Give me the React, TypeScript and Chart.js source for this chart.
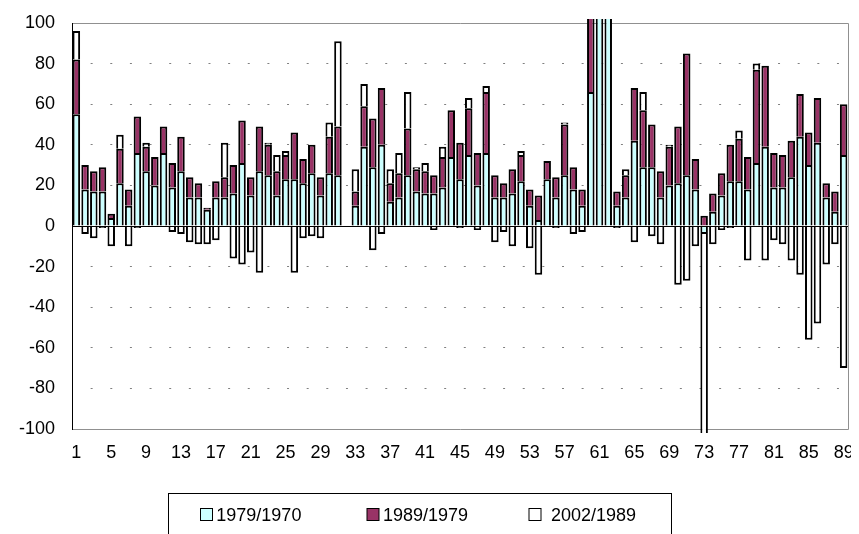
import { useEffect, useRef } from "react";
import { Chart, registerables } from "chart.js";

Chart.register(...registerables);

const categories = [
  "1", "2", "3", "4", "5", "6", "7", "8", "9", "10",
  "11", "12", "13", "14", "15", "16", "17", "18", "19", "20",
  "21", "22", "23", "24", "25", "26", "27", "28", "29", "30",
  "31", "32", "33", "34", "35", "36", "37", "38", "39", "40",
  "41", "42", "43", "44", "45", "46", "47", "48", "49", "50",
  "51", "52", "53", "54", "55", "56", "57", "58", "59", "60",
  "61", "62", "63", "64", "65", "66", "67", "68", "69", "70",
  "71", "72", "73", "74", "75", "76", "77", "78", "79", "80",
  "81", "82", "83", "84", "85", "86", "87", "88", "89",
];

const seriesLabels = ["1979/1970", "1989/1979", "2002/1989"];

const values1979 = [
  55, 18, 17, 17, 4, 21, 10, 36, 27, 20,
  36, 19, 27, 14, 14, 8, 14, 14, 16, 31,
  15, 27, 25, 15, 23, 23, 21, 26, 15, 26,
  25, null, 10, 39, 29, 40, 12, 14, 25, 17,
  16, 16, 19, 34, 23, 35, 20, 36, 14, 14,
  16, 22, 10, 3, 23, 14, 25, 18, 10, 66,
  150, 140, 10, 14, 42, 29, 29, 14, 20, 21,
  25, 18, -4, 7, 15, 22, 22, 18, 31, 39,
  19, 19, 24, 44, 30, 41, 14, 7, 35,
];

const values1989 = [
  27, 12, 10, 12, 2, 17, 8, 18, 12, 14,
  13, 12, 17, 10, 7, 1, 8, 10, 14, 21,
  9, 22, 15, 12, 12, 23, 12, 14, 9, 18,
  24, null, 7, 20, 24, 28, 9, 12, 23, 11,
  11, 9, 15, 23, 18, 23, 16, 30, 11, 7,
  12, 13, 8, 12, 9, 10, 25, 11, 8, 50,
  null, null, 7, 11, 26, 28, 21, 13, 19, 28,
  60, 15, 5, 9, 11, 18, 21, 16, 46, 40,
  17, 16, 18, 21, 16, 22, 7, 10, 25,
];

const values2002 = [
  14, -4, -6, -1, -10, 7, -10, -1, 2, null,
  null, -3, -4, -8, -9, -9, -7, 17, -16, -19,
  -13, -23, 1, 8, 2, -23, -6, -5, -6, 7,
  42, null, 11, 11, -12, -4, 7, 10, 18, 1,
  4, -2, 5, null, -1, 5, -2, 3, -8, -3,
  -10, 2, -11, -24, null, -1, 1, -4, -3, null,
  null, null, -1, 3, -8, 9, -5, -9, 1, -29,
  -27, -10, -110, -9, -2, -1, 4, -17, 3, -17,
  -7, -9, -17, -24, -56, -48, -19, -9, -70,
];

const yTickMin = -100;
const yTickMax = 100;
const yTickStep = 20;

const seriesColors = ["#CCFFFF", "#993366", "#FFFFFF"];

const FONT = "'Liberation Sans', Arial, sans-serif";

const framePlugin = {
  id: "frame",
  beforeDatasetsDraw(chart: any) {
    const { ctx, chartArea: a } = chart;
    ctx.save();
    ctx.strokeStyle = "#909090";
    ctx.lineWidth = 1;
    ctx.beginPath();
    ctx.moveTo(a.left, Math.round(a.top) + 0.5);
    ctx.lineTo(Math.round(a.right) + 0.5, Math.round(a.top) + 0.5);
    ctx.lineTo(Math.round(a.right) + 0.5, Math.round(a.bottom) + 0.5);
    ctx.lineTo(a.left, Math.round(a.bottom) + 0.5);
    ctx.stroke();
    ctx.restore();
  },
  afterDatasetsDraw(chart: any) {
    const { ctx, chartArea: a, scales } = chart;
    const y0 = Math.round(scales.y.getPixelForValue(0)) + 0.5;
    ctx.save();
    ctx.strokeStyle = "#000";
    ctx.lineWidth = 1;
    ctx.beginPath();
    ctx.moveTo(a.left, y0);
    ctx.lineTo(a.right, y0);
    ctx.stroke();
    ctx.beginPath();
    ctx.moveTo(Math.round(a.left) + 0.5, a.top);
    ctx.lineTo(Math.round(a.left) + 0.5, a.bottom + 1);
    ctx.stroke();
    ctx.restore();
  },
};

const legendBoxPlugin = {
  id: "legendBox",
  afterDraw(chart: any) {
    const { ctx } = chart;
    const datasets = chart.data.datasets;
    const itemX = [192, 358.5, 520.5];
    const textX = [208.3, 375, 543];
    ctx.save();
    ctx.strokeStyle = "#000";
    ctx.lineWidth = 1;
    ctx.strokeRect(160.5, 485.5, 503, 100);
    ctx.font = `18px ${FONT}`;
    ctx.textBaseline = "alphabetic";
    ctx.textAlign = "left";
    datasets.forEach((ds: any, i: number) => {
      ctx.fillStyle = ds.backgroundColor;
      ctx.fillRect(itemX[i] + 0.5, 500.5, 12, 12);
      ctx.strokeStyle = "#000";
      ctx.strokeRect(itemX[i] + 0.5, 500.5, 12, 12);
      ctx.fillStyle = "#000";
      ctx.fillText(ds.label, textX[i], 513);
    });
    ctx.restore();
  },
};

export default function App() {
  const canvasRef = useRef<HTMLCanvasElement | null>(null);

  useEffect(() => {
    document.documentElement.style.overflow = "hidden";
    document.body.style.overflow = "hidden";
    const canvas = canvasRef.current;
    if (!canvas) return;
    const seriesValues = [values1979, values1989, values2002];
    const chart = new Chart(canvas, {
      type: "bar",
      data: {
        labels: categories,
        datasets: seriesValues.map((vals, i) => ({
          label: seriesLabels[i],
          data: vals,
          backgroundColor: seriesColors[i],
          borderColor: "#000000",
          borderWidth: 2,
          barPercentage: 0.86,
          categoryPercentage: 1,
          clip: { left: 0, top: 4, right: 0, bottom: 4 },
        })),
      },
      options: {
        animation: false,
        responsive: false,
        devicePixelRatio: 1,
        layout: { padding: { left: 0, right: 11, top: 15, bottom: 69 } },
        plugins: {
          legend: { display: false },
          tooltip: { enabled: false },
        },
        scales: {
          x: {
            stacked: true,
            grid: { display: false, drawTicks: false },
            border: { display: false },
            ticks: {
              autoSkip: false,
              maxRotation: 0,
              minRotation: 0,
              padding: 13,
              color: "#000",
              font: { size: 18, family: FONT },
              callback: function (this: any, val: any, idx: number) {
                return idx % 4 === 0 ? this.getLabelForValue(val) : "";
              },
            },
            afterFit: (s: any) => {
              s.height = 36;
              s.paddingLeft = 0;
              s.paddingRight = 0;
              s.paddingTop = 0;
              s.paddingBottom = 0;
            },
          },
          y: {
            stacked: true,
            min: yTickMin,
            max: yTickMax,
            ticks: {
              stepSize: yTickStep,
              padding: 17,
              color: "#000",
              font: { size: 18, family: FONT },
            },
            grid: {
              drawTicks: false,
              lineWidth: 1,
              color: (ctx: any) => {
                const v = ctx.tick ? ctx.tick.value : null;
                return v === 0 || v === yTickMax || v === yTickMin
                  ? "rgba(0,0,0,0)"
                  : "#808080";
              },
            },
            border: { display: false, dash: [2, 17.64], dashOffset: 1 },
            afterFit: (s: any) => {
              s.width = 64;
              s.paddingTop = 0;
              s.paddingBottom = 0;
              s.paddingLeft = 0;
              s.paddingRight = 0;
            },
          },
        },
      },
      plugins: [framePlugin, legendBoxPlugin],
    } as any);
    return () => chart.destroy();
  }, []);

  return (
    <div style={{ width: 851, height: 526 }}>
      <canvas ref={canvasRef} width={851} height={526} style={{ display: "block", width: 851, height: 526 }} />
    </div>
  );
}
